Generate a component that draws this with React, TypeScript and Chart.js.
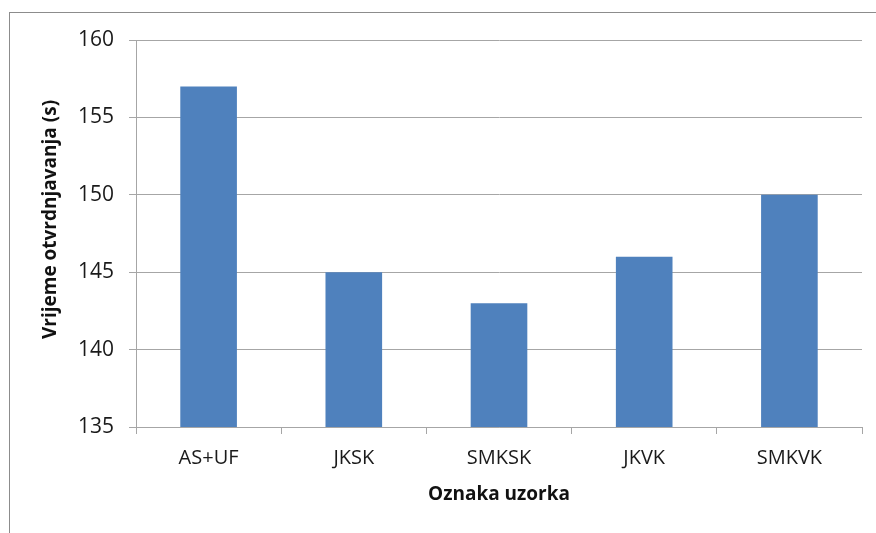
import React, { useEffect, useRef } from "react";
import { Chart, registerables } from "chart.js";

Chart.register(...registerables);

const categories = ["AS+UF", "JKSK", "SMKSK", "JKVK", "SMKVK"];
const values = [157, 145, 143, 146, 150];
const yMin = 135;
const yMax = 160;
const yStep = 5;
const xTitle = "Oznaka uzorka";
const yTitle = "Vrijeme otvrdnjavanja (s)";

const FONT = "'Open Sans', 'Noto Sans', sans-serif";
const GRID = "#a6a6a6";

const titlesPlugin = {
  id: "axisTitles",
  afterDraw(chart: any) {
    const { ctx, chartArea } = chart;
    ctx.save();
    ctx.fillStyle = "#111";
    ctx.font = `bold 19px ${FONT}`;
    ctx.textAlign = "center";
    ctx.textBaseline = "middle";
    ctx.fillText(xTitle, (chartArea.left + chartArea.right) / 2, 495);
    ctx.translate(51, (chartArea.top + chartArea.bottom) / 2 - 14);
    ctx.rotate(-Math.PI / 2);
    ctx.fillText(yTitle, 0, 0);
    ctx.restore();
  },
};

export default function App() {
  const ref = useRef<HTMLCanvasElement>(null);
  useEffect(() => {
    if (!ref.current) return;
    const chart = new Chart(ref.current, {
      type: "bar",
      data: {
        labels: categories,
        datasets: [
          {
            data: values,
            backgroundColor: "#4f81bd",
            borderWidth: 0,
            barPercentage: 0.39,
            categoryPercentage: 1,
          },
        ],
      },
      options: {
        animation: false,
        responsive: false,
        devicePixelRatio: 1,
        layout: { padding: { left: 0, top: 40, right: 14, bottom: 0 } },
        plugins: { legend: { display: false }, tooltip: { enabled: false }, title: { display: false } },
        scales: {
          x: {
            offset: true,
            grid: { display: true, drawOnChartArea: false, drawTicks: true, tickLength: 7, color: GRID, offset: true },
            border: { color: GRID, width: 1 },
            ticks: { font: { family: FONT, size: 20 }, color: "#1a1a1a", padding: 12 },
            afterFit: (s: any) => {
              s.height = 106;
            },
          },
          y: {
            min: yMin,
            max: yMax,
            grid: { color: GRID, tickLength: 7 },
            border: { color: GRID, width: 1 },
            ticks: { stepSize: yStep, font: { family: FONT, size: 21 }, color: "#1a1a1a", padding: 15 },
            afterFit: (s: any) => {
              s.width = 136;
            },
          },
        },
      },
      plugins: [titlesPlugin],
    });
    return () => chart.destroy();
  }, []);
  return (
    <div style={{ position: "fixed", left: 0, top: 0, width: 876, height: 533, overflow: "hidden", background: "#fff" }}>
      <div
        style={{
          position: "absolute",
          left: 9,
          top: 12,
          width: 1000,
          height: 1000,
          borderLeft: "1px solid #8c8c8c",
          borderTop: "1px solid #8c8c8c",
        }}
      />
      <canvas ref={ref} width={876} height={533} style={{ position: "absolute", left: 0, top: 0 }} />
    </div>
  );
}
